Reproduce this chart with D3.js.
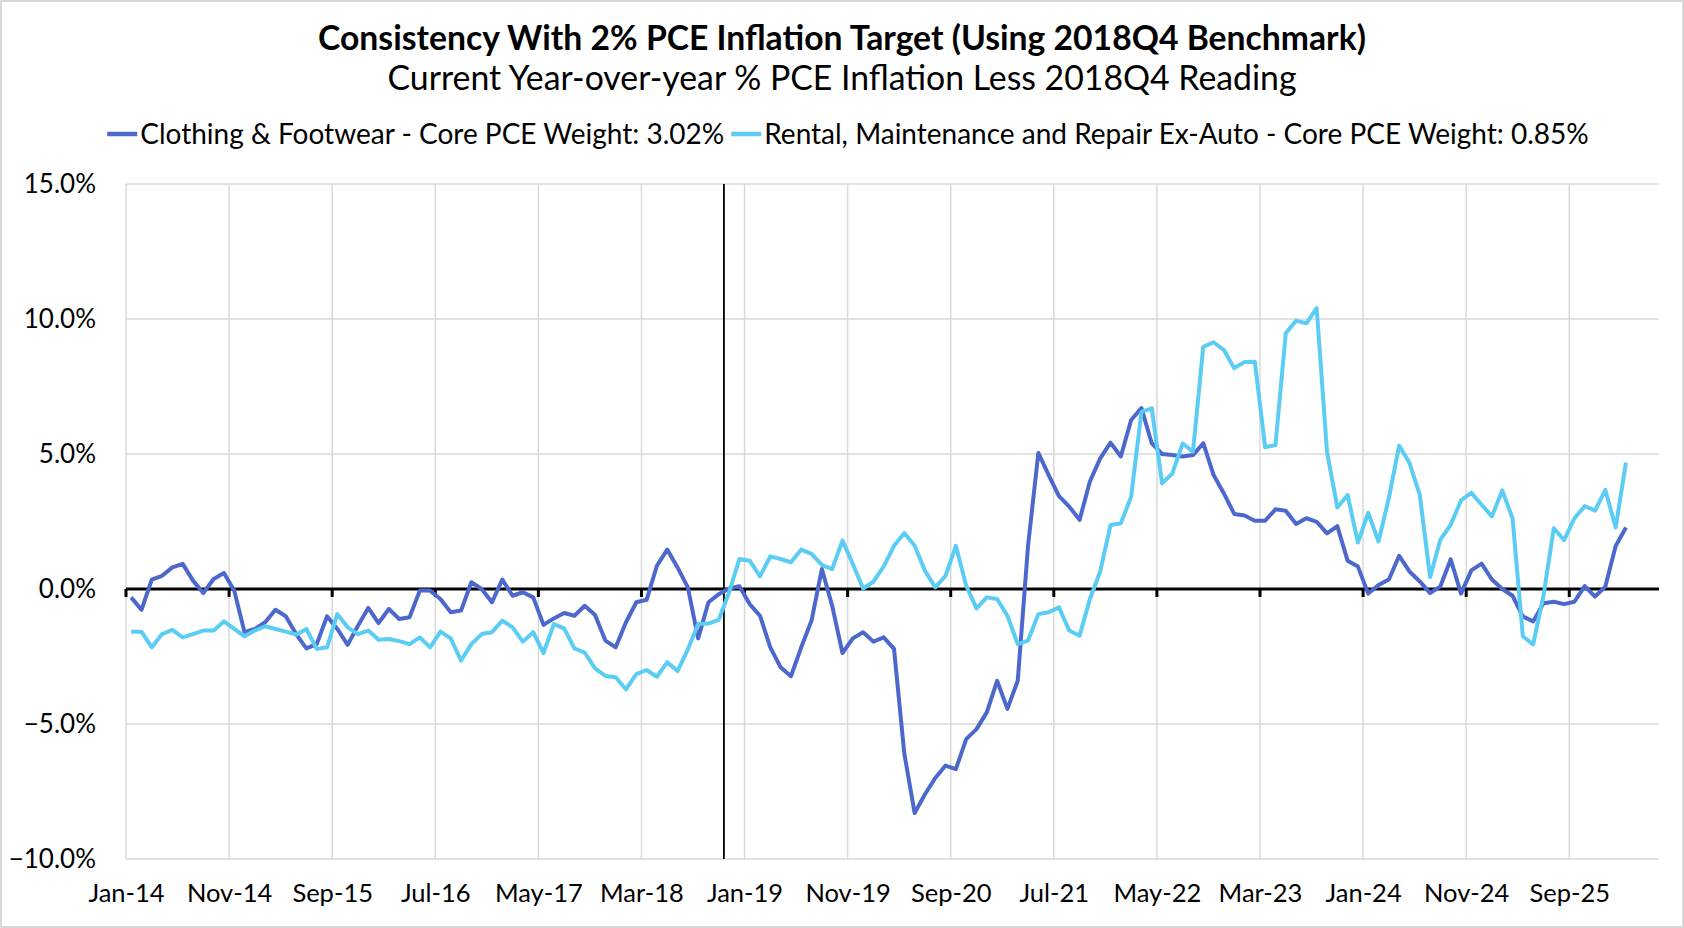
<!DOCTYPE html>
<html>
<head>
<meta charset="utf-8">
<script src="https://cdn.jsdelivr.net/npm/d3@7"></script>
<style>
  html, body { margin: 0; padding: 0; background: #fff; }
  svg { display: block; font-family: Lato, "Open Sans", sans-serif; }
</style>
</head>
<body>
<div id="chart"></div>
<script>
// months are counted from Jan-14 (index 0); last reading is Feb-26
const startMonth = new Date(2014, 0, 1);
const benchmarkMonth = 58; // vertical marker, 2018Q4

const tickMonths = [0, 10, 20, 30, 40, 50, 60, 70, 80, 90, 100, 110, 120, 130, 140];
const tickLabels = ["Jan-14", "Nov-14", "Sep-15", "Jul-16", "May-17", "Mar-18", "Jan-19", "Nov-19",
  "Sep-20", "Jul-21", "May-22", "Mar-23", "Jan-24", "Nov-24", "Sep-25"];
const yTicks = [-10, -5, 0, 5, 10, 15];

const seriesNames = [
  "Clothing & Footwear - Core PCE Weight: 3.02%",
  "Rental, Maintenance and Repair Ex-Auto - Core PCE Weight: 0.85%"
];

const clothing = [
  -0.31, -0.77, 0.35, 0.49, 0.80, 0.93, 0.31, -0.15, 0.37, 0.59,
  -0.06, -1.60, -1.48, -1.23, -0.77, -1.01, -1.67, -2.20, -2.04, -1.01,
  -1.48, -2.07, -1.36, -0.70, -1.26, -0.74, -1.11, -1.05, -0.06, -0.06,
  -0.37, -0.86, -0.80, 0.25, 0.00, -0.49, 0.35, -0.25, -0.12, -0.31,
  -1.33, -1.09, -0.89, -0.99, -0.62, -0.96, -1.91, -2.16, -1.23, -0.49,
  -0.40, 0.86, 1.46, 0.80, 0.06, -1.83, -0.49, -0.19, 0.02, 0.10,
  -0.56, -0.99, -2.16, -2.90, -3.23, -2.16, -1.17, 0.74, -0.62, -2.37,
  -1.83, -1.60, -1.95, -1.79, -2.22, -6.10, -8.30, -7.60, -7.00, -6.54,
  -6.67, -5.56, -5.19, -4.57, -3.40, -4.44, -3.40, 1.60, 5.04, 4.22,
  3.44, 3.05, 2.56, 3.98, 4.84, 5.42, 4.91, 6.26, 6.70, 5.40,
  5.00, 4.96, 4.91, 4.96, 5.40, 4.22, 3.54, 2.78, 2.72, 2.53,
  2.53, 2.95, 2.90, 2.41, 2.62, 2.49, 2.06, 2.33, 1.05, 0.83,
  -0.17, 0.15, 0.35, 1.23, 0.65, 0.28, -0.15, 0.10, 1.10, -0.17,
  0.69, 0.94, 0.35, 0.00, -0.25, -1.02, -1.20, -0.53, -0.47, -0.56,
  -0.47, 0.11, -0.28, 0.09, 1.59, 2.28
];

const rental = [
  -1.58, -1.58, -2.16, -1.67, -1.51, -1.79, -1.67, -1.54, -1.54, -1.20,
  -1.48, -1.75, -1.54, -1.38, -1.48, -1.58, -1.69, -1.48, -2.22, -2.16,
  -0.93, -1.42, -1.67, -1.54, -1.88, -1.85, -1.93, -2.04, -1.79, -2.16,
  -1.58, -1.83, -2.65, -2.04, -1.67, -1.60, -1.17, -1.42, -1.95, -1.60,
  -2.37, -1.30, -1.46, -2.20, -2.36, -2.94, -3.22, -3.27, -3.72, -3.15,
  -3.00, -3.25, -2.71, -3.04, -2.24, -1.30, -1.28, -1.14, -0.12, 1.11,
  1.05, 0.47, 1.21, 1.11, 0.99, 1.46, 1.30, 0.89, 0.74, 1.79,
  0.93, 0.02, 0.27, 0.84, 1.60, 2.07, 1.60, 0.68, 0.06, 0.49,
  1.60, 0.12, -0.72, -0.31, -0.37, -0.99, -2.04, -1.91, -0.93, -0.86,
  -0.68, -1.54, -1.73, -0.37, 0.65, 2.37, 2.43, 3.42, 6.56, 6.69,
  3.91, 4.28, 5.39, 5.09, 8.97, 9.14, 8.85, 8.18, 8.41, 8.42,
  5.25, 5.33, 9.47, 9.94, 9.84, 10.40, 5.08, 3.02, 3.48, 1.72,
  2.82, 1.76, 3.37, 5.31, 4.67, 3.49, 0.44, 1.83, 2.38, 3.28,
  3.56, 3.12, 2.69, 3.65, 2.62, -1.75, -2.05, -0.25, 2.25, 1.81,
  2.62, 3.07, 2.90, 3.67, 2.28, 4.68
];

const colors = ["#4c68cd", "#5bccf4"];

const width = 1684;
const height = 928;
const plotLeft = 126, plotRight = 1659, plotTop = 184, plotBottom = 859;

const months = d3.range(clothing.length).map(i => d3.timeMonth.offset(startMonth, i));
console.log(months[0], months[months.length - 1]);

const x = d3.scaleLinear()
  .domain([0, (plotRight - plotLeft) / 10.309])
  .range([plotLeft, plotRight]);
const y = d3.scaleLinear()
  .domain([-10, 15])
  .range([plotBottom, plotTop]);

const svg = d3.create("svg")
  .attr("width", width)
  .attr("height", height)
  .attr("viewBox", [0, 0, width, height]);

// attach early so text can be measured
document.getElementById("chart").appendChild(svg.node());

svg.append("rect")
  .attr("x", 1).attr("y", 1)
  .attr("width", width - 2).attr("height", height - 2)
  .attr("fill", "#fff")
  .attr("stroke", "#d9d9d9")
  .attr("stroke-width", 2);

// titles
svg.append("text")
  .attr("x", 842).attr("y", 50)
  .attr("text-anchor", "middle")
  .attr("font-size", 33.7).attr("font-weight", "bold")
  .text("Consistency With 2% PCE Inflation Target (Using 2018Q4 Benchmark)");

svg.append("text")
  .attr("x", 842).attr("y", 90)
  .attr("text-anchor", "middle")
  .attr("font-size", 33.8)
  .text("Current Year-over-year % PCE Inflation Less 2018Q4 Reading");

// gridlines
const gGrid = svg.append("g")
  .attr("stroke", "#d9d9d9")
  .attr("stroke-width", 1.5);

gGrid.selectAll("line.h")
  .data(yTicks.filter(d => d !== 0))
  .join("line")
  .attr("class", "h")
  .attr("x1", plotLeft).attr("x2", plotRight)
  .attr("y1", d => y(d)).attr("y2", d => y(d));

gGrid.selectAll("line.v")
  .data(tickMonths)
  .join("line")
  .attr("class", "v")
  .attr("x1", d => x(d)).attr("x2", d => x(d))
  .attr("y1", plotTop).attr("y2", plotBottom);

// y axis labels
svg.append("g")
  .attr("transform", `translate(${plotLeft - 27},0)`)
  .call(d3.axisLeft(y).tickValues(yTicks).tickSize(0).tickFormat(d => d3.format(".1f")(d) + "%"))
  .call(g => g.select(".domain").remove())
  .call(g => g.selectAll("text")
    .attr("font-family", "Lato, sans-serif")
    .attr("font-size", 26)
    .attr("fill", "#000")
    .attr("dx", 0));

// x axis labels
svg.append("g")
  .attr("transform", `translate(0,${plotBottom + 22})`)
  .call(d3.axisBottom(x).tickValues(tickMonths).tickSize(0).tickFormat((d, i) => tickLabels[i]))
  .call(g => g.select(".domain").remove())
  .call(g => g.selectAll("text")
    .attr("font-family", "Lato, sans-serif")
    .attr("font-size", 25.5)
    .attr("fill", "#000"));

// zero line with small ticks
svg.append("line")
  .attr("x1", plotLeft).attr("x2", plotRight)
  .attr("y1", y(0)).attr("y2", y(0))
  .attr("stroke", "#000").attr("stroke-width", 3);

svg.append("g").selectAll("line")
  .data(tickMonths)
  .join("line")
  .attr("x1", d => x(d)).attr("x2", d => x(d))
  .attr("y1", y(0)).attr("y2", y(0) + 8)
  .attr("stroke", "#000").attr("stroke-width", 3);

// benchmark marker
svg.append("line")
  .attr("x1", x(benchmarkMonth)).attr("x2", x(benchmarkMonth))
  .attr("y1", plotTop).attr("y2", plotBottom)
  .attr("stroke", "#000").attr("stroke-width", 1.8);

// series
const line = d3.line()
  .x((d, i) => x(i + 0.5))
  .y(d => y(d));

[clothing, rental].forEach((values, k) => {
  svg.append("path")
    .datum(values)
    .attr("fill", "none")
    .attr("stroke", colors[k])
    .attr("stroke-width", 4)
    .attr("stroke-linejoin", "round")
    .attr("d", line);
});

// legend
const legend = svg.append("g");
let lx = 0;
seriesNames.forEach((name, k) => {
  const item = legend.append("g").attr("transform", `translate(${lx},0)`);
  item.append("line")
    .attr("x1", 0).attr("x2", 30)
    .attr("y1", 0).attr("y2", 0)
    .attr("stroke", colors[k]).attr("stroke-width", 4.5);
  const t = item.append("text")
    .attr("x", 33).attr("y", 0)
    .attr("dy", "0.35em")
    .attr("font-size", 28)
    .text(name);
  lx += 33 + t.node().getComputedTextLength() + 7;
});

const legendWidth = lx - 7;
legend.attr("transform", `translate(${848 - legendWidth / 2},134)`);
</script>
</body>
</html>
